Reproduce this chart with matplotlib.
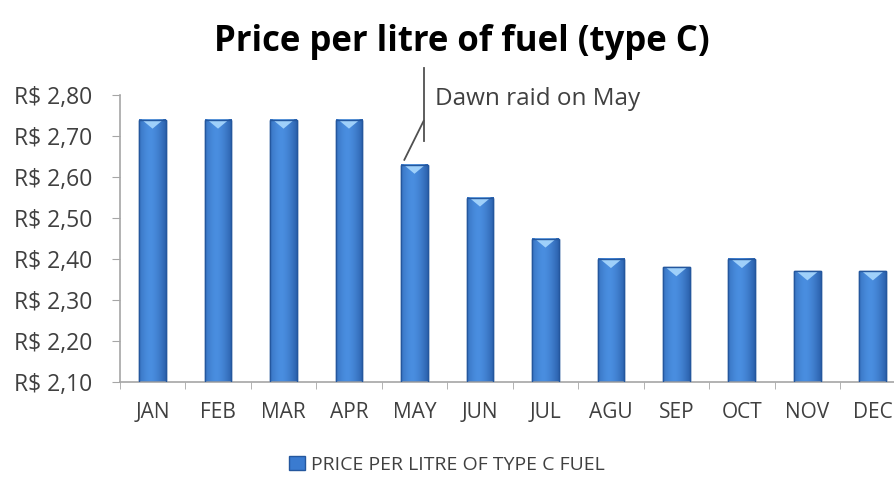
import matplotlib.pyplot as plt
from matplotlib.patches import Patch, Polygon
import numpy as np

months = ['JAN', 'FEB', 'MAR', 'APR', 'MAY', 'JUN', 'JUL', 'AGU', 'SEP', 'OCT', 'NOV', 'DEC']
prices = [2.74, 2.74, 2.74, 2.74, 2.63, 2.55, 2.45, 2.40, 2.38, 2.40, 2.37, 2.37]
y_ticks = [2.10, 2.20, 2.30, 2.40, 2.50, 2.60, 2.70, 2.80]
y_labels = ['R$ 2,10', 'R$ 2,20', 'R$ 2,30', 'R$ 2,40', 'R$ 2,50', 'R$ 2,60', 'R$ 2,70', 'R$ 2,80']
note_text = 'Dawn raid on May'
note_month = 'MAY'
legend_text = 'PRICE PER LITRE OF TYPE C FUEL'

plt.rcParams['font.family'] = ['Open Sans', 'DejaVu Sans']

fig = plt.figure(figsize=(8.94, 4.80), dpi=100)
# axes runs a little past the right edge, like the cropped source
ax = fig.add_axes([0.134, 0.204, 0.879, 0.598])

x = np.arange(len(months))
width = 0.41
bars = ax.bar(x, prices, width=width, color='#3a7bd0', edgecolor='#24579e', linewidth=1.0, zorder=2)

# horizontal shading so bars look like the office-style cylinders
grad = np.linspace(0, 1, 64)
shade = 1 - 0.55 * (2 * np.abs(grad - 0.42)) ** 1.6
cmap = plt.matplotlib.colors.LinearSegmentedColormap.from_list('bar', ['#1f4f96', '#4a8ee0'])
for b in bars:
    x0, w, h = b.get_x(), b.get_width(), b.get_height()
    ax.imshow(shade[np.newaxis, :], cmap=cmap, vmin=0, vmax=1, aspect='auto',
              extent=[x0, x0 + w, 2.10, h], zorder=2.5, interpolation='bicubic')
    # light cap at the top of each bar
    cap = Polygon([[x0 + 0.04, h], [x0 + w - 0.04, h],
                   [x0 + w * 0.5, h - 0.022]], closed=True,
                  facecolor='#9fd0fa', edgecolor='none', zorder=3)
    ax.add_patch(cap)
    ax.add_patch(plt.Rectangle((x0, 2.10), w, h - 2.10, fill=False,
                               edgecolor='#24579e', linewidth=1.0, zorder=3.5))

ax.set_xlim(-0.5, len(months) - 0.5)
ax.set_ylim(2.10, 2.80)
ax.set_yticks(y_ticks)
ax.set_yticklabels(y_labels)
ax.set_xticks(x)
ax.set_xticklabels(months)
ax.set_xticks(np.arange(-0.5, len(months), 1), minor=True)

for s in ['top', 'right']:
    ax.spines[s].set_visible(False)
for s in ['left', 'bottom']:
    ax.spines[s].set_color('#a6a6a6')
    ax.spines[s].set_linewidth(1.2)

ax.tick_params(axis='y', length=6, color='#a6a6a6', labelsize=16.5, labelcolor='#404040', pad=14)
ax.tick_params(axis='x', which='major', length=0, labelsize=15, labelcolor='#404040', pad=14)
ax.tick_params(axis='x', which='minor', length=5, color='#a6a6a6')

# leader line for the note, anchored on the May bar
i = months.index(note_month)
bx = i - width / 2
by = prices[i]
ax.plot([i + 0.14, i + 0.14], [by + 0.058, by + 0.237], color='#505050', lw=1.3, clip_on=False, zorder=4)
ax.plot([bx + 0.05, i + 0.14], [by + 0.012, by + 0.107], color='#505050', lw=1.3, clip_on=False, zorder=4)
ax.text(i + 0.32, by + 0.16, note_text, fontsize=17.5, color='#404040', va='center', ha='left')

fig.suptitle('Price per litre of fuel (type C)', fontsize=25, fontweight='bold', y=0.95, x=0.517)

handle = Patch(facecolor='#3a7bd0', edgecolor='#24579e')
fig.legend([handle], [legend_text], loc='center', bbox_to_anchor=(0.5, 0.032), frameon=False,
           fontsize=14, labelcolor='#404040', handlelength=0.8, handleheight=0.8, handletextpad=0.3)

fig.savefig('out.png', dpi=100)
